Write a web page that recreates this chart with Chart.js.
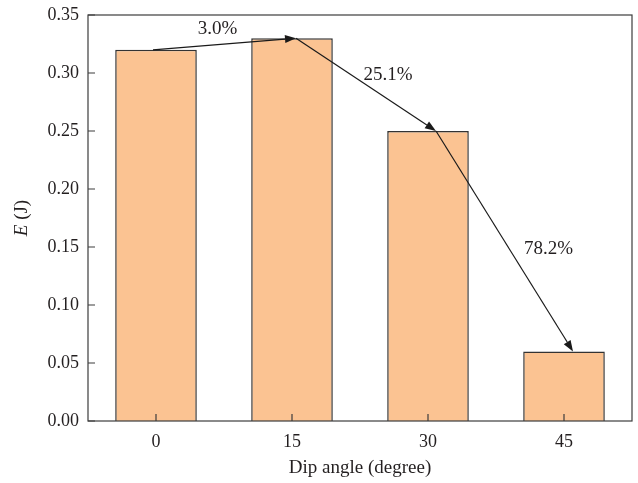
<!DOCTYPE html>
<html>
<head>
<meta charset="utf-8">
<script src="https://cdn.jsdelivr.net/npm/chart.js@4"></script>
<style>
  html, body { margin: 0; padding: 0; background: #fff; }
  #wrap { width: 638px; height: 483px; }
</style>
</head>
<body>
<div id="wrap"><canvas id="chart" width="638" height="483"></canvas></div>
<script>
const dipAngles = ["0", "15", "30", "45"];
const energy = [0.32, 0.33, 0.25, 0.06];
const changeLabels = ["3.0%", "25.1%", "78.2%"];
const yTicks = [0, 0.05, 0.1, 0.15, 0.2, 0.25, 0.3, 0.35];

const SERIF = "'Liberation Serif', 'DejaVu Serif', serif";
const INK = "#231f20";
const FRAME = "#3c3c3c";

// small horizontal nudges for where each arrow meets a bar top
const anchorShift = [-3, 4, 8, 9];
// label offsets from each arrow's midpoint
const labelShift = [[-7, -15], [22, -10], [44, 8]];

const framePlugin = {
  id: "frame",
  afterDraw(chart) {
    const { ctx, chartArea: a, scales } = chart;
    ctx.save();
    ctx.strokeStyle = FRAME;
    ctx.lineWidth = 1.2;
    ctx.strokeRect(a.left, a.top, a.right - a.left, a.bottom - a.top);
    // inward tick marks on the left and bottom axes
    ctx.beginPath();
    yTicks.forEach((v) => {
      const y = scales.y.getPixelForValue(v);
      ctx.moveTo(a.left, y);
      ctx.lineTo(a.left + 7, y);
    });
    dipAngles.forEach((_, i) => {
      const x = scales.x.getPixelForValue(i);
      ctx.moveTo(x, a.bottom);
      ctx.lineTo(x, a.bottom - 7);
    });
    ctx.stroke();

    // y axis title: italic E followed by the unit
    ctx.translate(22, (a.top + a.bottom) / 2);
    ctx.rotate(-Math.PI / 2);
    ctx.fillStyle = INK;
    ctx.textBaseline = "middle";
    ctx.font = "italic 19px " + SERIF;
    const wE = ctx.measureText("E").width;
    ctx.font = "19px " + SERIF;
    const wU = ctx.measureText(" (J)").width;
    const x0 = -(wE + wU) / 2;
    ctx.font = "italic 19px " + SERIF;
    ctx.textAlign = "left";
    ctx.fillText("E", x0, 0);
    ctx.font = "19px " + SERIF;
    ctx.fillText(" (J)", x0 + wE, 0);
    ctx.restore();
  },
};

const arrowPlugin = {
  id: "arrows",
  afterDatasetsDraw(chart) {
    const { ctx } = chart;
    const bars = chart.getDatasetMeta(0).data;
    ctx.save();
    ctx.strokeStyle = "#1a1a1a";
    ctx.fillStyle = "#1a1a1a";
    ctx.lineWidth = 1.2;
    for (let i = 0; i < bars.length - 1; i++) {
      const x1 = bars[i].x + anchorShift[i];
      const y1 = bars[i].y;
      const x2 = bars[i + 1].x + anchorShift[i + 1];
      const y2 = bars[i + 1].y;
      const ang = Math.atan2(y2 - y1, x2 - x1);
      const len = 11;
      const half = 4;
      const bx = x2 - len * Math.cos(ang);
      const by = y2 - len * Math.sin(ang);
      ctx.beginPath();
      ctx.moveTo(x1, y1);
      ctx.lineTo(bx, by);
      ctx.stroke();
      ctx.beginPath();
      ctx.moveTo(x2, y2);
      ctx.lineTo(bx - half * Math.sin(ang), by + half * Math.cos(ang));
      ctx.lineTo(bx + half * Math.sin(ang), by - half * Math.cos(ang));
      ctx.closePath();
      ctx.fill();

      ctx.font = "19px " + SERIF;
      ctx.fillStyle = INK;
      ctx.textAlign = "center";
      ctx.textBaseline = "middle";
      ctx.fillText(
        changeLabels[i],
        (x1 + x2) / 2 + labelShift[i][0],
        (y1 + y2) / 2 + labelShift[i][1]
      );
      ctx.fillStyle = "#1a1a1a";
    }
    ctx.restore();
  },
};

new Chart(document.getElementById("chart"), {
  type: "bar",
  data: {
    labels: dipAngles,
    datasets: [
      {
        data: energy,
        backgroundColor: "#fbc392",
        borderColor: "#333333",
        borderWidth: 1.5,
        barPercentage: 0.6,
        categoryPercentage: 1,
      },
    ],
  },
  options: {
    responsive: false,
    animation: false,
    layout: { padding: { top: 15, right: 6 } },
    plugins: {
      legend: { display: false },
      tooltip: { enabled: false },
    },
    scales: {
      x: {
        grid: { display: false, drawTicks: false },
        border: { display: false },
        ticks: {
          padding: 10,
          color: INK,
          font: { family: SERIF, size: 18 },
        },
        title: {
          display: true,
          text: "Dip angle (degree)",
          color: INK,
          font: { family: SERIF, size: 19 },
          padding: { top: 4, bottom: 4 },
        },
        afterFit(scale) {
          scale.height = 62;
          scale.paddingLeft = 0;
          scale.paddingRight = 0;
        },
      },
      y: {
        min: 0,
        max: 0.35,
        grid: { display: false, drawTicks: false },
        border: { display: false },
        afterBuildTicks(scale) {
          scale.ticks = yTicks.map((v) => ({ value: v }));
        },
        ticks: {
          padding: 9,
          color: INK,
          font: { family: SERIF, size: 18 },
          callback: (v) => Number(v).toFixed(2),
        },
        afterFit(scale) {
          scale.width = 88;
          scale.paddingTop = 0;
          scale.paddingBottom = 0;
        },
      },
    },
  },
  plugins: [framePlugin, arrowPlugin],
});
</script>
</body>
</html>
